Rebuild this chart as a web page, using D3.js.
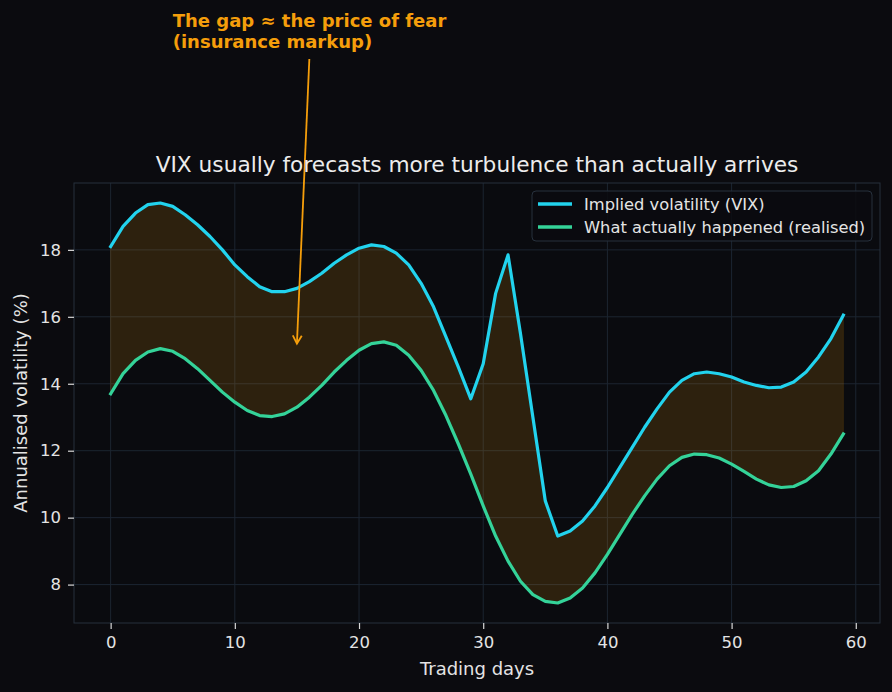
<!DOCTYPE html>
<html>
<head>
<meta charset="utf-8">
<script src="https://cdn.jsdelivr.net/npm/d3@7/dist/d3.min.js"></script>
<style>
  html, body { margin: 0; padding: 0; background: #0b0b0f; }
  svg { display: block; font-family: "DejaVu Sans", sans-serif; }
</style>
</head>
<body>
<div id="chart"></div>
<script>
// trading days 0..59
const days = d3.range(0, 60);

const implied = [
  18.1, 18.7, 19.1, 19.35, 19.4, 19.3, 19.05, 18.75, 18.4, 18.0,
  17.55, 17.2, 16.9, 16.75, 16.75, 16.85, 17.05, 17.3, 17.6, 17.85,
  18.05, 18.15, 18.1, 17.9, 17.55, 17.0, 16.3, 15.4, 14.5, 13.55,
  14.6, 16.7, 17.85, 15.5, 13.0, 10.5, 9.45, 9.6, 9.9, 10.35,
  10.9, 11.5, 12.1, 12.7, 13.25, 13.75, 14.1, 14.3, 14.35, 14.3,
  14.2, 14.05, 13.95, 13.88, 13.9, 14.05, 14.35, 14.8, 15.35, 16.05
];

const realised = [
  13.7, 14.3, 14.7, 14.95, 15.05, 14.97, 14.75, 14.45, 14.1, 13.75,
  13.45, 13.2, 13.05, 13.02, 13.1, 13.3, 13.6, 13.95, 14.35, 14.7,
  15.0, 15.2, 15.25, 15.15, 14.85, 14.4, 13.8, 13.05, 12.2, 11.3,
  10.35, 9.45, 8.7, 8.1, 7.7, 7.5, 7.45, 7.6, 7.9, 8.35,
  8.9, 9.5, 10.1, 10.65, 11.15, 11.55, 11.8, 11.9, 11.88, 11.78,
  11.6, 11.38, 11.15, 10.98, 10.9, 10.93, 11.1, 11.4, 11.9, 12.5
];

const xTicks = [0, 10, 20, 30, 40, 50, 60];
const yTicks = [8, 10, 12, 14, 16, 18];
const seriesNames = ["Implied volatility (VIX)", "What actually happened (realised)"];
const seriesColors = ["#22d3ee", "#34d399"];
const noteLines = ["The gap \u2248 the price of fear", "(insurance markup)"];
// annotation: text anchor, arrow tail and arrow tip in data units
const noteText = [5, 24.65];
const noteTail = [16, 23.7];
const noteTip = [15, 15.2];

const W = 892, H = 692;
const margin = { left: 74, top: 183, right: 12, bottom: 69 };
const iw = W - margin.left - margin.right;
const ih = H - margin.top - margin.bottom;

const pad = (59 - 0) * 0.05;
const x = d3.scaleLinear().domain([0 - pad, 59 + pad]).range([0, iw]);
const yMin = d3.min(realised), yMax = d3.max(implied);
const yPad = (yMax - yMin) * 0.05;
const y = d3.scaleLinear().domain([yMin - yPad, yMax + yPad]).range([ih, 0]);

const svg = d3.select("#chart").append("svg")
  .attr("width", W).attr("height", H);

svg.append("rect").attr("width", W).attr("height", H).attr("fill", "#0b0b0f");

const g = svg.append("g").attr("transform", `translate(${margin.left},${margin.top})`);

g.append("rect").attr("width", iw).attr("height", ih).attr("fill", "#0a0b0f");

// grid
g.selectAll(".gx").data(xTicks).enter().append("line")
  .attr("x1", d => x(d)).attr("x2", d => x(d))
  .attr("y1", 0).attr("y2", ih)
  .attr("stroke", "#1c2531").attr("stroke-width", 1);
g.selectAll(".gy").data(yTicks).enter().append("line")
  .attr("x1", 0).attr("x2", iw)
  .attr("y1", d => y(d)).attr("y2", d => y(d))
  .attr("stroke", "#1c2531").attr("stroke-width", 1);

// gap between the two
const area = d3.area()
  .x(d => x(d))
  .y0(d => y(realised[d]))
  .y1(d => y(implied[d]));
g.append("path").datum(days)
  .attr("d", area)
  .attr("fill", "#f59e0b").attr("fill-opacity", 0.15)
  .attr("stroke", "#f59e0b").attr("stroke-opacity", 0.12);

const line = arr => d3.line().x(d => x(d)).y(d => y(arr[d]));
[implied, realised].forEach((arr, i) => {
  g.append("path").datum(days)
    .attr("d", line(arr))
    .attr("fill", "none")
    .attr("stroke", seriesColors[i])
    .attr("stroke-width", 3.2)
    .attr("stroke-linejoin", "round")
    .attr("stroke-linecap", "square");
});

// spines
g.append("rect").attr("width", iw).attr("height", ih)
  .attr("fill", "none").attr("stroke", "#27313d").attr("stroke-width", 1);

// axes
const xAxis = g.append("g").attr("transform", `translate(0,${ih})`)
  .call(d3.axisBottom(x).tickValues(xTicks).tickSize(6).tickPadding(7).tickFormat(d3.format("d")));
const yAxis = g.append("g")
  .call(d3.axisLeft(y).tickValues(yTicks).tickSize(6).tickPadding(7).tickFormat(d3.format("d")));
[xAxis, yAxis].forEach(a => {
  a.select(".domain").remove();
  a.selectAll("line").attr("stroke", "#d8d8d8").attr("stroke-width", 1.2);
  a.selectAll("text").attr("fill", "#e4e4e4")
    .style("font-family", "DejaVu Sans").style("font-size", "16.5px");
});

svg.append("text")
  .attr("x", margin.left + iw / 2).attr("y", H - 17)
  .attr("text-anchor", "middle").attr("fill", "#e4e4e4")
  .style("font-size", "18px").text("Trading days");
svg.append("text")
  .attr("transform", `translate(27,${margin.top + ih / 2}) rotate(-90)`)
  .attr("text-anchor", "middle").attr("fill", "#e4e4e4")
  .style("font-size", "18px").text("Annualised volatility (%)");

svg.append("text")
  .attr("x", margin.left + iw / 2).attr("y", margin.top - 11)
  .attr("text-anchor", "middle").attr("fill", "#ececec")
  .style("font-size", "21.7px").text("VIX usually forecasts more turbulence than actually arrives");

// legend
const leg = g.append("g").attr("transform", `translate(${iw - 348},8)`);
leg.append("rect").attr("width", 340).attr("height", 50).attr("rx", 4)
  .attr("fill", "#0b0b0f").attr("fill-opacity", 0.85)
  .attr("stroke", "#27313d").attr("stroke-width", 1);
seriesNames.forEach((name, i) => {
  const ly = 13 + i * 23;
  leg.append("line").attr("x1", 6).attr("x2", 40).attr("y1", ly).attr("y2", ly)
    .attr("stroke", seriesColors[i]).attr("stroke-width", 3.5);
  leg.append("text").attr("x", 52).attr("y", ly + 5.5)
    .attr("fill", "#e4e4e4").style("font-size", "16.3px").text(name);
});

// annotation
const defs = svg.append("defs");
defs.append("marker").attr("id", "head")
  .attr("viewBox", "-10 -6 12 12").attr("refX", 0).attr("refY", 0)
  .attr("markerWidth", 12).attr("markerHeight", 12)
  .attr("markerUnits", "userSpaceOnUse").attr("orient", "auto")
  .append("path").attr("d", "M-8,-4.5 L0,0 L-8,4.5")
  .attr("fill", "none").attr("stroke", "#f59e0b").attr("stroke-width", 1.8);

g.append("line")
  .attr("x1", x(noteTail[0])).attr("y1", y(noteTail[1]))
  .attr("x2", x(noteTip[0])).attr("y2", y(noteTip[1]))
  .attr("stroke", "#f59e0b").attr("stroke-width", 1.8)
  .attr("marker-end", "url(#head)");

const note = g.append("text")
  .attr("x", x(noteText[0])).attr("y", y(noteText[1]))
  .attr("fill", "#f59e0b").style("font-size", "18px").style("font-weight", "bold");
noteLines.forEach((t, i) => {
  note.append("tspan").attr("x", x(noteText[0])).attr("dy", i === 0 ? 0 : 20.5).text(t);
});
</script>
</body>
</html>
